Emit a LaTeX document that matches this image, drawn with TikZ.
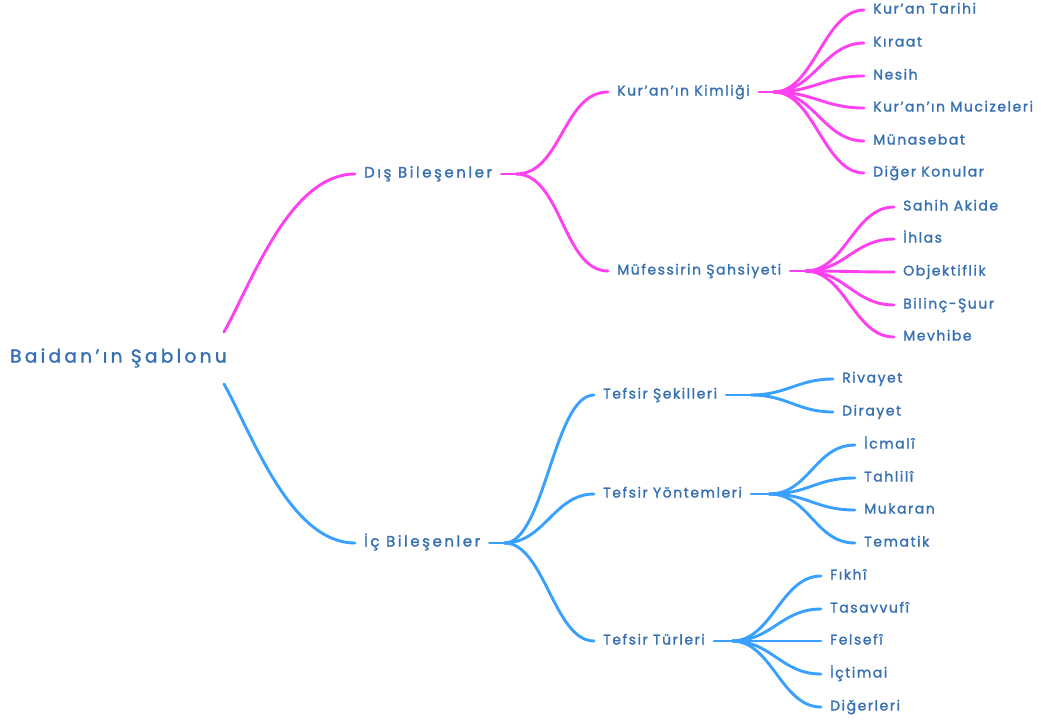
\documentclass[tikz,border=0pt]{standalone}
\usepackage{fontspec}
\setmainfont[LetterSpace=11, Ligatures=NoCommon, FakeBold=1.6]{Poppins}
\newfontfamily\mainfont[LetterSpace=17, Ligatures=NoCommon, FakeBold=1.6]{Poppins}
\newfontfamily\rootfont[LetterSpace=18, Ligatures=NoCommon, FakeBold=1.6]{Poppins}
\usepackage{tikz}
\usetikzlibrary{positioning}
\definecolor{pinkline}{RGB}{255,64,240}
\definecolor{blueline}{RGB}{58,160,255}
\definecolor{mapblue}{RGB}{55,112,178}
\tikzset{topic/.style = {anchor = west, inner xsep = 9, inner ysep = 1,
                         text = mapblue, font = \fontsize{14}{15}\selectfont,
                         text height = 10, text depth = 3}}
\tikzset{main/.style = {topic, font = \mainfont\fontsize{15}{16}\selectfont}}
\tikzset{root/.style = {topic, font = \rootfont\fontsize{18.5}{20}\selectfont,
                        text height = 13, text depth = 4}}
\tikzset{pinkedge/.style = {draw = pinkline, line width = 2.9, line cap = round}}
\tikzset{blueedge/.style = {draw = blueline, line width = 2.9, line cap = round}}

\begin{document}
\begin{tikzpicture}[x=1pt, y=-1pt]
    \useasboundingbox (0, 0) rectangle (1041, 720);

    \node [root] (sablon) at (1, 358) {Baidan’ın Şablonu};
    \coordinate (sablonup) at (224, 332);
    \coordinate (sablondown) at (224, 384);

    \node [main] (dis) at (355, 174) {Dış Bileşenler};
    \node [main] (ic) at (355, 543) {İç Bileşenler};

    \node [topic] (kimlik) at (608, 92) {Kur’an’ın Kimliği};
    \node [topic] (sahsiyet) at (608, 271) {Müfessirin Şahsiyeti};

    \node [topic] (sekil) at (594, 395) {Tefsir Şekilleri};
    \node [topic] (yontem) at (594, 494) {Tefsir Yöntemleri};
    \node [topic] (tur) at (594, 641) {Tefsir Türleri};

    \node [topic] (tarih) at (864, 10) {Kur’an Tarihi};
    \node [topic] (kiraat) at (864, 43) {Kıraat};
    \node [topic] (nesih) at (864, 76) {Nesih};
    \node [topic] (mucize) at (864, 108) {Kur’an’ın Mucizeleri};
    \node [topic] (munasebat) at (864, 141) {Münasebat};
    \node [topic] (diger) at (864, 173) {Diğer Konular};

    \node [topic] (akide) at (894, 207) {Sahih Akide};
    \node [topic] (ihlas) at (894, 239) {İhlas};
    \node [topic] (objektif) at (894, 272) {Objektiflik};
    \node [topic] (bilinc) at (894, 305) {Bilinç-Şuur};
    \node [topic] (mevhibe) at (894, 337) {Mevhibe};

    \node [topic] (rivayet) at (833, 379) {Rivayet};
    \node [topic] (dirayet) at (833, 412) {Dirayet};

    \node [topic] (icmali) at (855, 445) {İcmalî};
    \node [topic] (tahlili) at (855, 478) {Tahlilî};
    \node [topic] (mukaran) at (855, 510) {Mukaran};
    \node [topic] (tematik) at (855, 543) {Tematik};

    \node [topic] (fikhi) at (821, 576) {Fıkhî};
    \node [topic] (tasavvufi) at (821, 609) {Tasavvufî};
    \node [topic] (felsefi) at (821, 641) {Felsefî};
    \node [topic] (ictimai) at (821, 674) {İçtimai};
    \node [topic] (digerleri) at (821, 707) {Diğerleri};

    % root branches
    \draw [pinkedge] (sablonup) .. controls (252, 282) and (290, 174) .. (dis.west);
    \draw [blueedge] (sablondown) .. controls (252, 434) and (290, 543) .. (ic.west);

    % Dis Bilesenler
    \draw [pinkedge] (dis.east) -- ++(15, 0) coordinate (disfork);
    \foreach \c in {kimlik, sahsiyet}
        \draw [pinkedge] (disfork) .. controls +(45, 0) and +(-45, 0) .. (\c.west);

    \draw [pinkedge] (kimlik.east) -- ++(15, 0) coordinate (kimlikfork);
    \foreach \c in {tarih, kiraat, nesih, mucize, munasebat, diger}
        \draw [pinkedge] (kimlikfork) .. controls +(40, 0) and +(-40, 0) .. (\c.west);

    \draw [pinkedge] (sahsiyet.east) -- ++(15, 0) coordinate (sahsiyetfork);
    \foreach \c in {akide, ihlas, objektif, bilinc, mevhibe}
        \draw [pinkedge] (sahsiyetfork) .. controls +(40, 0) and +(-40, 0) .. (\c.west);

    % Ic Bilesenler
    \draw [blueedge] (ic.east) -- ++(15, 0) coordinate (icfork);
    \foreach \c in {sekil, yontem, tur}
        \draw [blueedge] (icfork) .. controls +(40, 0) and +(-40, 0) .. (\c.west);

    \draw [blueedge] (sekil.east) -- ++(25, 0) coordinate (sekilfork);
    \foreach \c in {rivayet, dirayet}
        \draw [blueedge] (sekilfork) .. controls +(35, 0) and +(-35, 0) .. (\c.west);

    \draw [blueedge] (yontem.east) -- ++(18, 0) coordinate (yontemfork);
    \foreach \c in {icmali, tahlili, mukaran, tematik}
        \draw [blueedge] (yontemfork) .. controls +(40, 0) and +(-40, 0) .. (\c.west);

    \draw [blueedge] (tur.east) -- ++(18, 0) coordinate (turfork);
    \foreach \c in {fikhi, tasavvufi, felsefi, ictimai, digerleri}
        \draw [blueedge] (turfork) .. controls +(40, 0) and +(-40, 0) .. (\c.west);
\end{tikzpicture}
\end{document}
